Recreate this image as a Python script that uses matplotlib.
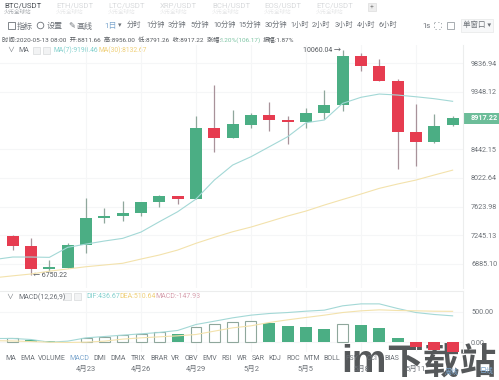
import matplotlib
matplotlib.use('Agg')
import matplotlib.pyplot as plt
from matplotlib.patches import Rectangle, Circle
from matplotlib.ticker import NullLocator

plt.rcParams['font.family'] = ['Roboto', 'Noto Sans CJK SC', 'DejaVu Sans']

dates = ['4月18', '4月19', '4月20', '4月21', '4月22', '4月23', '4月24', '4月25', '4月26', '4月27', '4月28', '4月29', '4月30',
         '5月1', '5月2', '5月3', '5月4', '5月5', '5月6', '5月7', '5月8', '5月9', '5月10', '5月11', '5月12', '5月13']
opens = [7019, 7238, 7111, 6826, 6838, 7120, 7470, 7492, 7532, 7685, 7767, 7730, 8769,
         8615, 8816, 8964, 8885, 8863, 9006, 9130, 9960, 9785, 9527, 8707, 8554, 8811.66]
closes = [7225, 7111, 6826, 6846, 7120, 7470, 7492, 7532, 7685, 7767, 7730, 8769, 8615,
          8822, 8964, 8885, 8863, 9006, 9130, 9960, 9785, 9527, 8707, 8554, 8801, 8917.22]
highs = [7240, 7247, 7205, 6936, 7149, 7744, 7600, 7703, 7690, 7781, 7770, 8956, 9460,
         9049, 9006, 9183, 8956, 9086, 9376, 10060.04, 10019, 9902, 9556, 9146, 8980, 8956]
lows = [7000, 7057, 6750.22, 6794, 6838, 7015, 7400, 7434, 7500, 7621, 7658, 7722, 8403,
        8610, 8765, 8713, 8519, 8765, 8901, 9038, 9703, 9527, 8149, 8197, 8530, 8791.26]
ma7 = [6939, 6970, 6970, 6966, 7091, 7132, 7171, 7205, 7286, 7421, 7554, 7726, 7991,
       8207, 8329, 8478, 8630, 8847, 8890, 9157, 9256, 9310, 9293, 9265, 9233, 9190.46]
ma30 = [6718, 6741, 6763, 6797, 6824, 6851, 6872, 6893, 6945, 6995, 7057, 7142, 7218,
        7290, 7351, 7423, 7497, 7563, 7644, 7720, 7795, 7874, 7935, 7991, 8063, 8132.67]
macd = [65, 76, 38, 22, 16, 76, 98, 120, 142, 164, 147, 262, 295,
        328, 349, 322, 273, 246, 224, 295, 289, 235, 76, -76, -126, -147.93]
dif = [65, 66, 49, 5, 22, 76, 98, 120, 142, 164, 197, 295, 349,
       404, 448, 475, 491, 513, 530, 601, 633, 633, 557, 491, 459, 436.67]
dea = [30, 25, 15, 5, 0, 5, 22, 55, 76, 93, 109, 131, 186,
       240, 273, 328, 371, 410, 448, 491, 519, 535, 524, 519, 513, 510.64]
price_ticks = [9836.94, 9348.12, 8442.15, 8022.64, 7623.98, 7245.13, 6885.10]
macd_ticks = [0, 500]
pairs = ['BTC/USDT', 'ETH/USDT', 'LTC/USDT', 'XRP/USDT', 'BCH/USDT', 'EOS/USDT', 'ETC/USDT']
periods = ['分时', '1分钟', '3分钟', '5分钟', '10分钟', '15分钟', '30分钟', '1小时', '2小时', '3小时', '4小时', '6小时']
indicators = ['MA', 'EMA', 'VOLUME', 'MACD', 'DMI', 'DMA', 'TRIX', 'BRAR', 'VR', 'OBV', 'EMV', 'RSI', 'WR',
              'SAR', 'KDJ', 'ROC', 'MTM', 'BOLL', 'PSY', 'CCI', 'BIAS']

GREEN = '#4bae84'
RED = '#e63c50'
TEAL = '#a3d8d6'
YELLOW = '#f3e2ac'
GRID = '#f5f6f7'
TEXT = '#6d7278'
W, H = 499, 380


def panel(fig, left, top, right, bottom, zorder=1):
    ax = fig.add_axes([left / W, 1 - bottom / H, (right - left) / W, (bottom - top) / H], zorder=zorder)
    ax.patch.set_alpha(0)
    return ax


fig = plt.figure(figsize=(W / 100, H / 100), dpi=100, facecolor='white')

# page furniture, in pixels
page = panel(fig, 0, 0, W, H, zorder=0)
page.set_xlim(0, W)
page.set_ylim(H, 0)
page.axis('off')

for x, name in zip([4, 56, 108, 160, 212, 264, 316], pairs):
    first = name == 'BTC/USDT'
    page.text(x, 6, name, fontsize=5.6, color='#4a4f55' if first else '#d8dadc', va='center')
    page.text(x, 12, '火币全球站', fontsize=4, color='#a8acb0' if first else '#e6e7e8', va='center')
page.add_patch(Rectangle((368, 3), 8, 8, fc='#eeeeee', ec='#dddddd', lw=0.5))
page.text(372, 7, '+', fontsize=5, color='#888888', ha='center', va='center')

page.add_patch(Rectangle((8, 22), 7, 7, fc='none', ec=TEXT, lw=0.6))
page.add_patch(Circle((40.5, 25.5), 3.3, fc='none', ec=TEXT, lw=0.6))
page.text(72, 25.5, '✎', fontsize=6, color=TEXT, ha='center', va='center', family=['DejaVu Sans'])
for x, label in zip([17, 47, 76], ['指标', '设置', '画线']):
    page.text(x, 25.5, label, fontsize=5.8, color=TEXT, va='center')
page.text(104, 25.5, '1日', fontsize=5.8, color='#7fa8cf', va='center')
page.text(118, 25.5, '▾', fontsize=5, color=TEXT, va='center', family=['DejaVu Sans'])
for x, label in zip([127, 146, 168, 190, 213, 238, 265, 290, 312, 335, 357, 379], periods):
    page.text(x, 25.5, label, fontsize=5.2, color=TEXT, va='center')
page.text(422, 25.5, '1s', fontsize=5.6, color=TEXT, va='center')
page.add_patch(Rectangle((434.5, 22), 7, 7, fc='none', ec='#9aa0a5', lw=0.6, ls=(0, (1.5, 3))))
page.add_patch(Rectangle((447, 22), 7, 7, fc='none', ec='#9aa0a5', lw=0.6))
page.add_patch(Rectangle((461, 19), 32, 13, fc='#f7f8f9', ec='#e6e7e8', lw=0.5))
page.text(477, 25.5, '单窗口 ▾', fontsize=5.4, color=TEXT, ha='center', va='center')

page.text(2, 40, '时间:2020-05-13 08:00  开:8811.66  高:8956.00  低:8791.26  收:8917.22  涨幅:',
          fontsize=4.55, color='#55595e', va='center')
page.text(219, 40, '1.20%(106.17)', fontsize=4.6, color='#7cc4a3', va='center')
page.text(263, 40, '振幅:1.87%', fontsize=4.6, color='#55595e', va='center')

page.text(11, 50.5, '∨', fontsize=5, color=TEXT, ha='center', va='center')
page.text(18, 50.5, 'MA', fontsize=5, color=TEXT, va='center')
page.text(54, 50.5, 'MA(7):9190.46', fontsize=4.9, color='#83d0cd', va='center')
page.text(99, 50.5, 'MA(30):8132.67', fontsize=4.9, color='#efcf78', va='center')
page.text(10, 297, '∨', fontsize=5, color=TEXT, ha='center', va='center')
page.text(18, 297, 'MACD(12,26,9)', fontsize=5, color=TEXT, va='center')
page.text(86, 297, 'DIF:436.67', fontsize=5, color='#83d0cd', va='center')
page.text(119, 297, 'DEA:510.64', fontsize=5, color='#efcf78', va='center')
page.text(155, 297, 'MACD:-147.93', fontsize=5, color='#d7a0ae', va='center')
for x, y in [(33, 46.5), (43, 46.5), (64, 293), (74, 293)]:
    page.add_patch(Rectangle((x, y), 7, 7, fc='#f2f3f4', ec='#d8dadc', lw=0.5))
page.add_patch(Rectangle((463, 112.7), 36, 11.3, fc='#6cbd99', ec='none'))

# watermark sits under the panels
page.text(341, 371.5, 'im', fontsize=28, fontweight='bold', color='#55585a', va='baseline',
          family=['Liberation Sans'])
page.text(386, 373.5, '下载站', fontsize=26.5, fontweight='bold', color='#55585a', va='baseline',
          family=['Noto Sans CJK SC'])

for x, label in zip([11, 28, 52, 79, 100, 118, 138, 159, 175, 191, 210, 227, 242,
                     258, 275, 293, 312, 332, 352, 372, 392], indicators):
    page.text(x, 359, label, fontsize=5, color='#7fa8cf' if label == 'MACD' else TEXT, ha='center', va='center')
page.text(452, 372, '周线', fontsize=5, color='#7fa8cf', ha='center', va='center')
page.text(487, 372, '日线', fontsize=5, color='#7fa8cf', ha='center', va='center')

# price panel
idx = list(range(len(dates)))
left_i, right_i = 5.63 / 18.33, 468.63 / 18.33
ax = panel(fig, 0, 45, 463, 288)
ax.set_yscale('log')
ax.set_xlim(left_i, right_i)
ax.set_ylim(6597, 10157)
colors = [GREEN if c >= o else RED for o, c in zip(opens, closes)]
wicks = ['#8fa79c' if c >= o else '#a8929a' for o, c in zip(opens, closes)]
ax.vlines(idx, lows, highs, colors=wicks, lw=0.9, zorder=2)
ax.bar(idx, [abs(c - o) for o, c in zip(opens, closes)], bottom=[min(o, c) for o, c in zip(opens, closes)],
       width=0.655, color=colors, zorder=3)
ax.plot(idx, ma7, color=TEAL, lw=0.8, zorder=4)
ax.plot(idx, ma30, color=YELLOW, lw=0.8, zorder=4)
ax.annotate('10060.04 →', xy=(19, 10060.04), xytext=(-1.5, 0), textcoords='offset points', ha='right',
            va='center', fontsize=5, color='#55595e')
ax.annotate('← 6750.22', xy=(2, 6750.22), xytext=(1.5, 0), textcoords='offset points', ha='left',
            va='center', fontsize=5, color='#55595e')
ax.set_xticks(idx[5::3])
ax.set_yticks(price_ticks)
ax.set_yticklabels(['%.2f' % t for t in price_ticks])
ax.yaxis.set_minor_locator(NullLocator())
ax.yaxis.tick_right()
ax.tick_params(axis='y', length=0, pad=5.8, labelsize=5.2, labelcolor=TEXT)
ax.tick_params(axis='x', length=0, labelbottom=False)
ax.grid(True, color=GRID, lw=0.8)
ax.set_axisbelow(True)
for side in ['top', 'left', 'bottom']:
    ax.spines[side].set_visible(False)
ax.spines['right'].set_color('#eceded')
ax.text(1.0175, closes[-1], '%.2f' % closes[-1], transform=ax.get_yaxis_transform(), fontsize=5.2, color='white',
        fontweight='bold', va='center', clip_on=False)

# macd panel
ax2 = panel(fig, 0, 291, 463, 352)
ax2.set_xlim(left_i, right_i)
ax2.set_ylim(-156, 844)
for i, v in enumerate(macd):
    rising = i > 0 and v > macd[i - 1]
    if v < 0:
        ax2.bar(i, v, width=0.655, color=RED, zorder=3)
    elif rising:
        ax2.bar(i, v, width=0.6, facecolor='white', edgecolor='#8fa79c', lw=0.8, zorder=3)
    else:
        ax2.bar(i, v, width=0.655, color=GREEN, zorder=3)
ax2.plot(idx, dif, color=TEAL, lw=0.8, zorder=4)
ax2.plot(idx, dea, color=YELLOW, lw=0.8, zorder=4)
ax2.set_xticks(idx[5::3])
ax2.set_xticklabels(dates[5::3])
ax2.set_yticks(macd_ticks)
ax2.set_yticklabels(['%.2f' % t for t in macd_ticks])
ax2.yaxis.tick_right()
ax2.tick_params(axis='y', length=0, pad=5.8, labelsize=5.2, labelcolor=TEXT)
ax2.tick_params(axis='x', length=0, pad=10, labelsize=5.4, labelcolor=TEXT)
ax2.grid(True, color=GRID, lw=0.8)
ax2.set_axisbelow(True)
for side in ['left', 'bottom']:
    ax2.spines[side].set_visible(False)
ax2.spines['right'].set_color('#eceded')
ax2.spines['top'].set_color('#eceded')

fig.savefig('out.png', dpi=100)
